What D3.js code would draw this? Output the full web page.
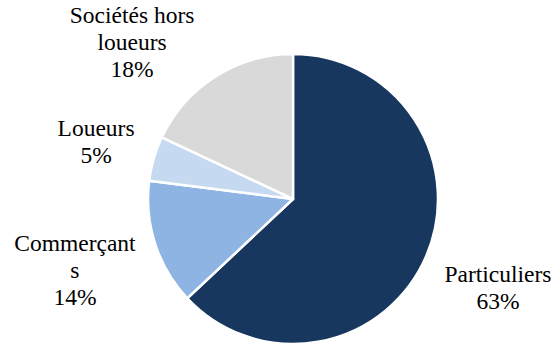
<!DOCTYPE html>
<html>
<head>
<meta charset="utf-8">
<script src="https://cdn.jsdelivr.net/npm/d3@7"></script>
<style>
  html, body { margin: 0; padding: 0; background: #ffffff; }
  svg { display: block; }
</style>
</head>
<body>
<svg id="chart" width="552" height="347"></svg>
<script>
// ---- data ----
const categories = ["Particuliers", "Commerçants", "Loueurs", "Sociétés hors loueurs"];
const values = [63, 14, 5, 18];
const labelLines = [["Particuliers"], ["Commerçant", "s"], ["Loueurs"], ["Sociétés hors", "loueurs"]];
const colors = ["#17375E", "#8DB4E2", "#C5D9F1", "#D9D9D9"];

// ---- layout ----
const W = 552, H = 347;
const cx = 293, cy = 199, R = 145;
const fontSize = 23.5, lineH = 27, padRay = 20, padCorner = 8, edge = 2;

const svg = d3.select("#chart");
const total = d3.sum(values);
const data = categories.map((c, i) => ({ cat: c, value: values[i], lines: labelLines[i], color: colors[i] }));

const pie = d3.pie().sort(null).value(d => d.value).startAngle(0).endAngle(2 * Math.PI);
const arc = d3.arc().innerRadius(0).outerRadius(R);
const arcs = pie(data);

const g = svg.append("g").attr("transform", `translate(${cx},${cy})`);

g.selectAll("path.slice")
  .data(arcs)
  .join("path")
  .attr("class", "slice")
  .attr("d", arc)
  .attr("fill", d => d.data.color)
  .attr("stroke", "#ffffff")
  .attr("stroke-width", 2.5)
  .attr("stroke-linejoin", "round");

const fmt = v => Math.round(v / total * 100) + "%";

arcs.forEach(a => {
  const lab = g.append("g").attr("class", "label");
  const t = lab.append("text")
    .attr("text-anchor", "middle")
    .attr("font-family", "'Liberation Serif', 'Times New Roman', Times, 'DejaVu Serif', serif")
    .attr("font-size", fontSize)
    .attr("fill", "#000000");
  const lines = a.data.lines.concat([fmt(a.data.value)]);
  lines.forEach((ln, i) => {
    t.append("tspan").attr("x", 0).attr("dy", i === 0 ? 0 : lineH).text(ln);
  });
  const bb = t.node().getBBox();
  const w = bb.width, h = bb.height;
  const bcx = bb.x + w / 2, bcy = bb.y + h / 2;
  const mid = (a.startAngle + a.endAngle) / 2;
  const sx = Math.sin(mid), sy = -Math.cos(mid);
  const half = Math.min(Math.abs(sx) > 1e-6 ? (w / 2) / Math.abs(sx) : Infinity,
                        Math.abs(sy) > 1e-6 ? (h / 2) / Math.abs(sy) : Infinity);
  const d = R + padRay + half;
  let px = sx * d, py = sy * d;
  // keep inside the chart area; slide sideways to stay clear of the pie
  const minY = edge - cy + h / 2, maxY = H - edge - cy - h / 2;
  if (py < minY || py > maxY) {
    py = Math.max(minY, Math.min(maxY, py));
    const cornerY = py + (sy < 0 ? h / 2 : -h / 2);
    const rr = R + padCorner;
    const dx = cornerY * cornerY < rr * rr ? Math.sqrt(rr * rr - cornerY * cornerY) : 0;
    px = Math.sign(sx) * (dx + w / 2);
  }
  lab.attr("transform", `translate(${px - bcx},${py - bcy})`);
});
</script>
</body>
</html>
